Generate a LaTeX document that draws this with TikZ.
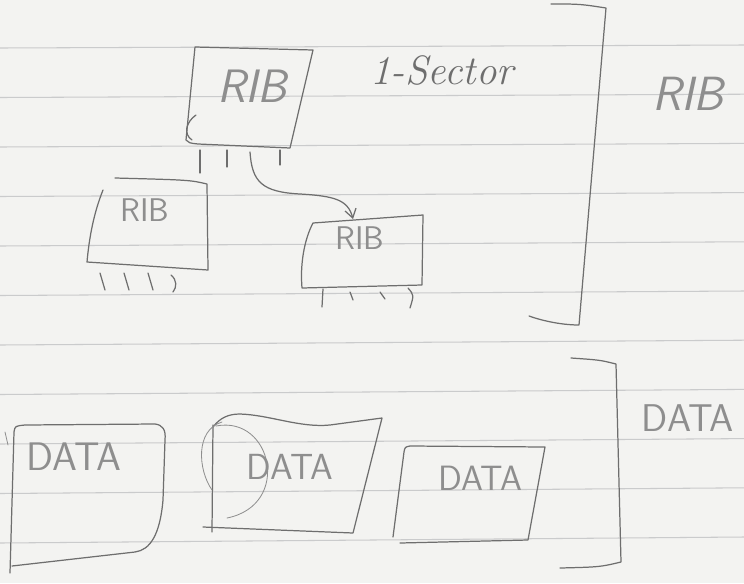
\documentclass[tikz,border=0pt]{standalone}
\usepackage{tikz}
\usetikzlibrary{arrows.meta, calc}
\definecolor{paper}{HTML}{F3F3F1}
\definecolor{ruleln}{HTML}{CACBCC}
\definecolor{lead}{HTML}{6E6E6E}
\definecolor{leadlt}{HTML}{8E8E8E}
\tikzset{
  pen/.style={draw=lead, line width=1.05pt, line cap=round, line join=round},
  penlt/.style={pen, draw=leadlt, line width=0.7pt},
  ruled/.style={draw=ruleln, line width=0.9pt},
  lbl/.style={text=leadlt, inner sep=0pt},
  flow/.style={pen, -{Straight Barb[length=2.6mm, width=3.4mm]}},
}
\newcommand{\hand}[1]{\sffamily\fontsize{#1}{#1}\selectfont}
\begin{document}
\begin{tikzpicture}[x=0.3mm, y=-0.3mm]
  \useasboundingbox (0,0) rectangle (744,583);
  \fill[paper] (0,0) rectangle (744,583);
  \foreach \k in {0,...,10}
    \draw[ruled] (0,{48+49.5*\k}) -- (744,{45+49.2*\k});

  \node[lbl, font=\hand{40}\slshape] (ribA) at (252,86) {RIB};
  \node[lbl, font=\hand{28}] (ribB) at (145,210) {RIB};
  \node[lbl, font=\hand{28}] (ribC) at (360,238) {RIB};
  \node[lbl, text=lead, font=\rmfamily\itshape\fontsize{35}{35}\selectfont] (sector) at (442,70) {1-Sector};
  \node[lbl, font=\hand{41}\slshape] (ribtag) at (688,94) {RIB};
  \node[lbl, font=\hand{34}] (dataA) at (74,457) {DATA};
  \node[lbl, font=\hand{31}] (dataB) at (290,467) {DATA};
  \node[lbl, font=\hand{30}] (dataC) at (480,478) {DATA};
  \node[lbl, font=\hand{33}] (datatag) at (688,418) {DATA};

  \draw[pen] (186,140) -- (195,47) -- (313,50) -- (290,148) -- (198,144)
    .. controls (189,143) .. (186,140);
  \draw[pen] (196,115) .. controls (186,122) and (183,134) .. (192,140);
  \foreach \x/\yb in {200/173, 227/167, 280/165}
    \draw[pen] (\x,150) -- (\x,\yb);

  \draw[pen] (103,190) .. controls (93,215) and (89,240) .. (87,262)
    -- (208,270) -- (207,184) .. controls (190,180) .. (115,178);
  \foreach \x in {100,124,148}
    \draw[pen] (\x,273) -- ++(5,17);
  \draw[pen] (171,275) .. controls (177,280) and (177,287) .. (173,292);

  \draw[pen] (313,223) -- (423,215) -- (422,285) -- (302,288)
    .. controls (300,265) and (304,240) .. (313,223);
  \draw[pen] (323,289) -- (322,307);
  \draw[pen] (350,292) -- (353,300);
  \draw[pen] (380,292) -- (385,299);
  \draw[pen] (408,288) .. controls (414,295) .. (410,308);

  \coordinate (ribA-out) at (250,152);
  \coordinate (ribC-in) at (353,219);
  \draw[flow] (ribA-out) .. controls (252,182) and (262,192) .. (300,194)
    .. controls (335,196) and (348,200) .. (ribC-in);

  \draw[pen] (551,4) .. controls (580,4) .. (606,8) -- (579,325)
    .. controls (560,325) and (540,320) .. (529,316);
  \draw[pen] (571,358) .. controls (600,360) .. (616,364) -- (621,562)
    .. controls (600,567) .. (560,568);

  \draw[pen] (10,573) -- (14,432) .. controls (15,426) .. (25,425) -- (155,424)
    .. controls (163,425) and (166,430) .. (165,440) -- (163,500)
    .. controls (160,535) and (150,550) .. (135,552) -- (12,566);
  \draw[penlt] (5,432) -- (8,445);

  \draw[pen] (213,427) .. controls (220,418) and (228,414) .. (240,414)
    .. controls (270,415) and (300,428) .. (330,425) -- (382,418)
    -- (353,533) -- (203,527);
  \draw[pen] (213,425) -- (212,532);
  \draw[penlt] (216,426) .. controls (272,415) and (292,505) .. (227,518);
  \draw[penlt] (222,422) .. controls (195,430) and (198,470) .. (212,490);

  \draw[pen] (393,537) -- (404,452) .. controls (405,447) .. (410,446)
    -- (545,447) -- (528,540) -- (400,543);
\end{tikzpicture}
\end{document}
